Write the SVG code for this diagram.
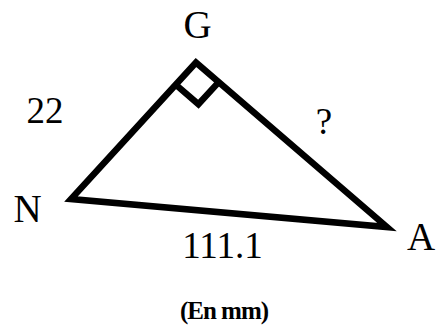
<svg xmlns="http://www.w3.org/2000/svg" width="436" height="329" viewBox="0 0 436 329">
<style>
.lbl{font-family:"Liberation Serif","Times New Roman",serif;font-size:39px;fill:#000}
.num{font-family:"Liberation Serif","Times New Roman",serif;font-size:37px;fill:#000}
.unit{font-family:"Liberation Serif","Times New Roman",serif;font-size:25px;font-weight:bold;letter-spacing:-1px;fill:#000}
.edge{fill:none;stroke:#000;stroke-width:6.5;stroke-linejoin:miter}
</style>
<rect width="436" height="329" fill="#fff"/>
<g id="connectors">
<polygon class="edge" points="196,62.5 71,199 387,227"/>
<polyline class="edge" points="175.7,84.6 198.4,104.2 218.7,82.1"/>
</g>
<g id="node-G"><text class="lbl" x="197.5" y="38" text-anchor="middle">G</text></g>
<g id="node-N"><text class="lbl" x="27.5" y="222" text-anchor="middle">N</text></g>
<g id="node-A"><text class="lbl" x="421" y="250" text-anchor="middle">A</text></g>
<g id="label-22"><text class="num" x="45" y="123" text-anchor="middle">22</text></g>
<g id="label-q"><text class="num" x="324" y="134" text-anchor="middle">?</text></g>
<g id="label-111"><text class="num" x="222.5" y="258" text-anchor="middle">111.1</text></g>
<g id="label-unit"><text class="unit" x="224" y="319" text-anchor="middle">(En mm)</text></g>
</svg>
